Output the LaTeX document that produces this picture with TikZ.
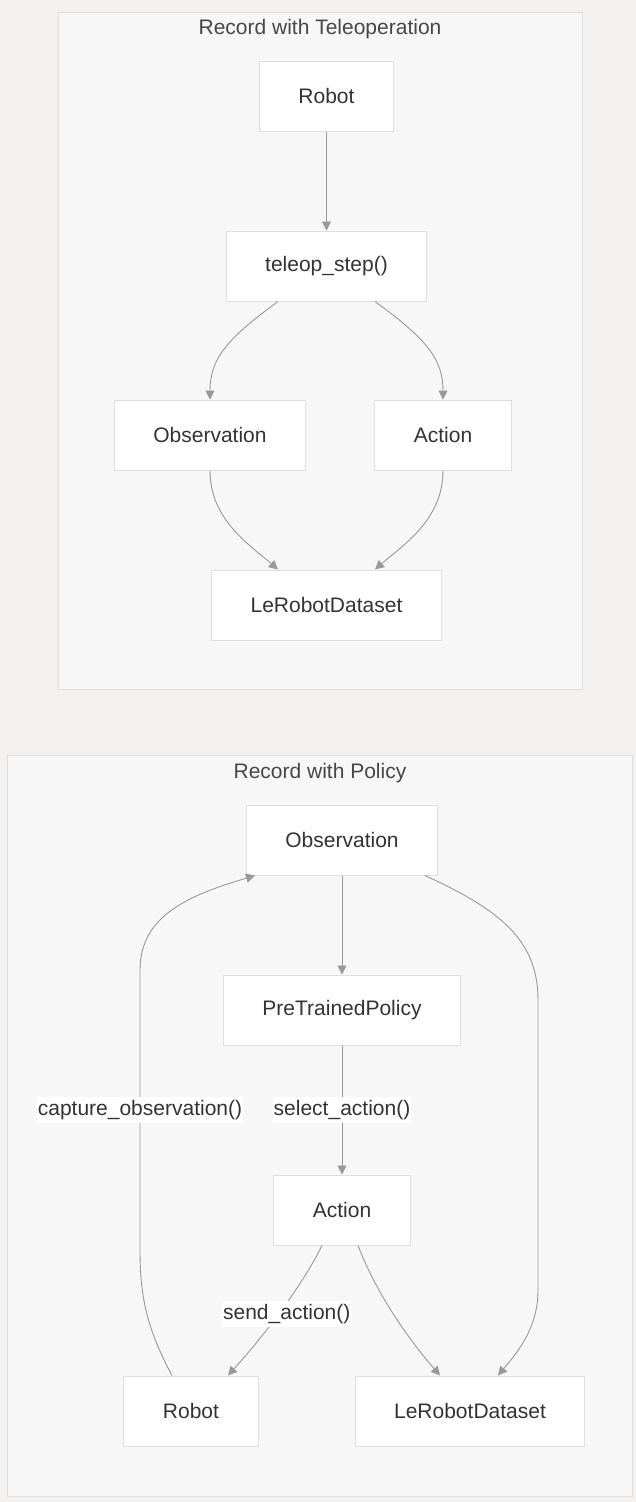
\documentclass[tikz,border=0pt]{standalone}
\usepackage{fontspec}
\setmainfont{Liberation Sans}
\usepackage{tikz}
\usetikzlibrary{arrows.meta,positioning}
\definecolor{PageGray}{HTML}{F2F1EF}
\definecolor{PanelGray}{HTML}{F7F7F7}
\definecolor{FrameGray}{HTML}{DEDEDE}
\definecolor{EdgeGray}{HTML}{999999}
\definecolor{InkGray}{HTML}{333333}
\begin{document}
\begin{tikzpicture}[x=1pt,y=-1pt,
  panel/.style={draw=FrameGray,fill=PanelGray,line width=1pt},
  box/.style={draw=FrameGray,fill=white,line width=1pt,minimum height=70pt,inner xsep=39pt,font=\fontsize{21}{25}\selectfont,text=InkGray},
  title/.style={font=\fontsize{21}{25}\selectfont,text=InkGray!90},
  lbl/.style={fill=white,inner xsep=1pt,inner ysep=3pt,font=\fontsize{21}{25}\selectfont,text=InkGray},
  arrow/.style={-{Triangle[length=9pt,width=9pt]},line width=0.9pt,color=EdgeGray}
]
\useasboundingbox (0,0) rectangle (636,1502);
\fill[PageGray] (0,0) rectangle (636,1502);
\draw[panel] (58,12) rectangle (582,689);
\draw[panel] (7,755) rectangle (632,1496);
\node[title] (teleTitle) at (320,29) {Record with Teleoperation};
\node[title] (policyTitle) at (320,773) {Record with Policy};
\node[box] (robotT) at (326.5,96) {Robot};
\node[box] (stepT) at (326.5,266) {teleop\_step()};
\node[box] (obsT) at (210,435) {Observation};
\node[box] (actT) at (443,435) {Action};
\node[box] (lrdT) at (326.5,605) {LeRobotDataset};
\node[box] (obsP) at (342,840) {Observation};
\node[box] (ptp) at (342,1010) {PreTrainedPolicy};
\node[box] (actP) at (342,1210) {Action};
\node[box] (robotP) at (191,1411) {Robot};
\node[box] (lrdP) at (470,1411) {LeRobotDataset};
\draw[arrow] (robotT)--(stepT);
\draw[arrow] ([xshift=-48.5]stepT.south) .. controls (225,340) and (210,360) .. (obsT.north);
\draw[arrow] ([xshift=48.5]stepT.south) .. controls (428,340) and (443,360) .. (actT.north);
\draw[arrow] (obsT.south) .. controls (210,520) and (250,545) .. ([xshift=-48.5]lrdT.north);
\draw[arrow] (actT.south) .. controls (443,520) and (403,545) .. ([xshift=48.5]lrdT.north);
\draw[arrow] (obsP)--(ptp);
\draw[arrow] (ptp)-- node[lbl] {select\_action()} (actP);
\draw[arrow] ([xshift=-20]actP.south) .. controls (300,1290) and (260,1340) .. node[lbl,xshift=8pt] {send\_action()} ([xshift=37]robotP.north);
\draw[arrow] ([xshift=16]actP.south) .. controls (375,1290) and (405,1335) .. ([xshift=-30]lrdP.north);
\draw[arrow] ([xshift=83]obsP.south) .. controls (500,910) and (538,940) .. (538,1000) -- (538,1290) .. controls (538,1330) and (515,1355) .. ([xshift=28]lrdP.north);
\draw[arrow] ([xshift=-19]robotP.north) .. controls (148,1330) and (140,1300) .. (140,1250) -- node[lbl] {capture\_observation()} (140,970) .. controls (140,915) and (190,895) .. ([xshift=-87]obsP.south);
\end{tikzpicture}
\end{document}
